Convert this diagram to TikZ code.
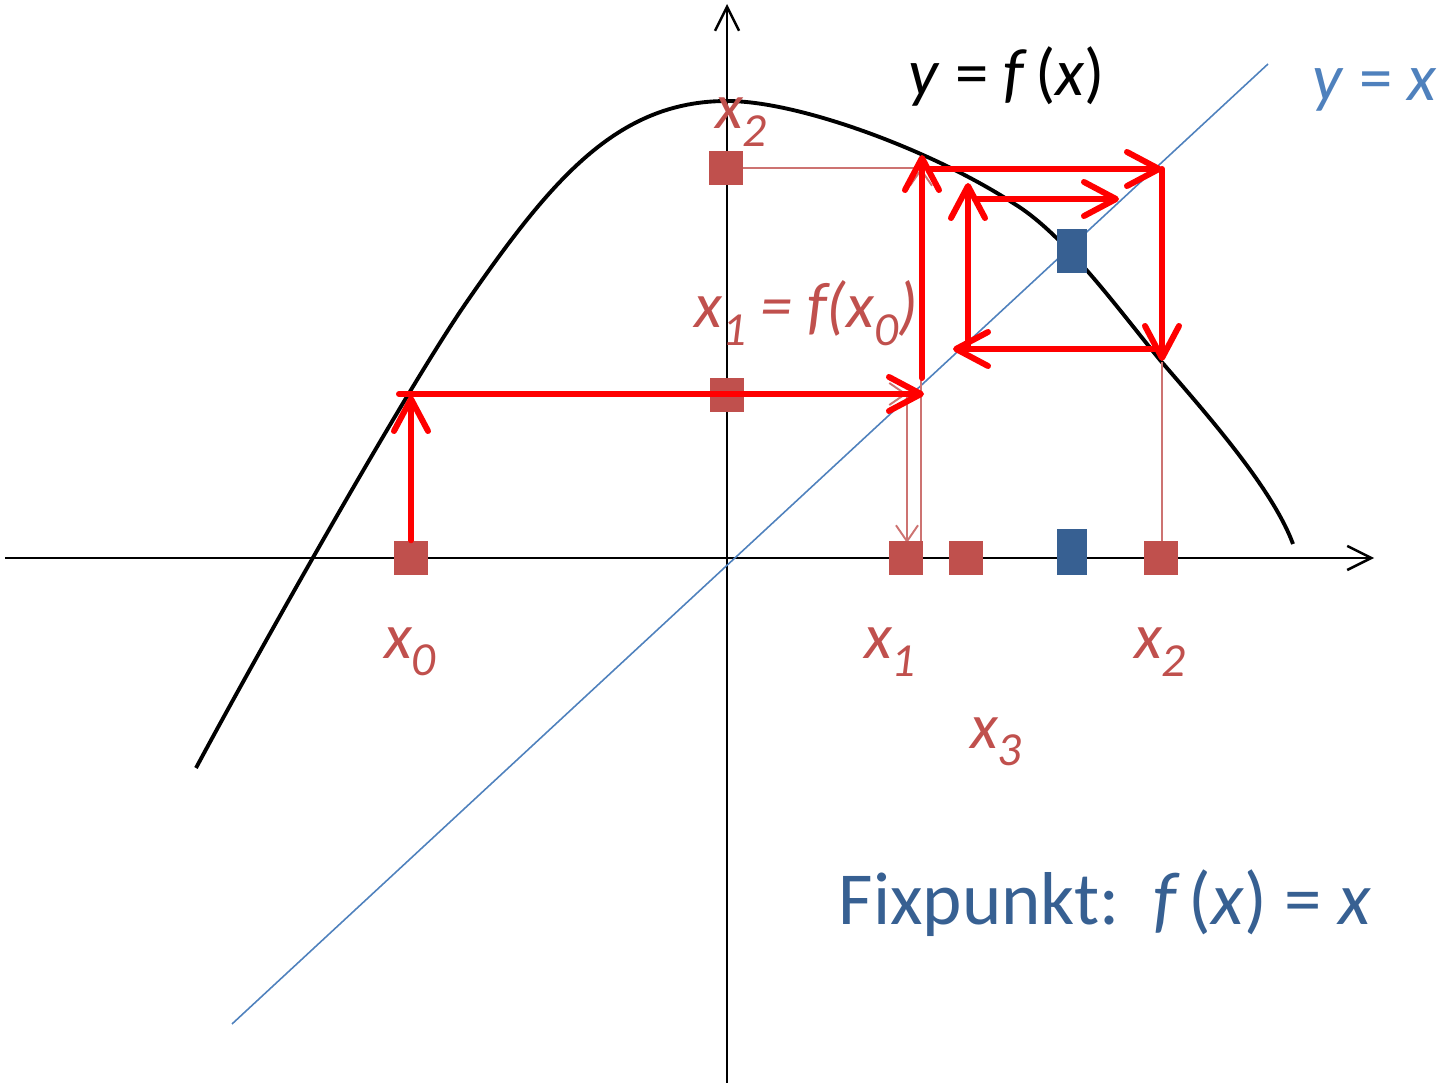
\documentclass[tikz,border=0pt]{standalone}
\usepackage{fontspec}
\setmainfont{Carlito}
\usepackage{xcolor}
\usetikzlibrary{arrows.meta,positioning}
\definecolor{brick}{HTML}{C0504D}
\definecolor{navy}{HTML}{376092}
\definecolor{sky}{HTML}{4F81BD}
\newcommand\lowsub[1]{\raisebox{-0.27em}{\fontsize{13.5}{14}\selectfont #1}}

\begin{document}
\begin{tikzpicture}[x=0.01cm,y=-0.01cm,
  axis/.style={line width=0.7pt,-{Straight Barb[length=2.4mm,width=2.4mm]}},
  graph/.style={line width=1.1pt,black},
  diag/.style={line width=0.45pt,sky},
  itp/.style={rectangle,fill=brick,minimum size=0.34cm,inner sep=0pt},
  fixp/.style={rectangle,fill=navy,minimum width=0.3cm,minimum height=0.46cm,inner sep=0pt},
  guide/.style={brick!80,line width=0.55pt},
  gtip/.style={-{Straight Barb[length=1.6mm,width=2.2mm]}},
  web/.style={red,line width=1.7pt,line cap=round,-{Straight Barb[length=3.2mm,width=3.4mm,round]}},
  lbl/.style={brick,font=\fontsize{18.3}{20}\selectfont\itshape,inner sep=0pt}]
\useasboundingbox (0,0) rectangle (1438,1088);
\coordinate (xl) at (5,558);
\coordinate (xr) at (1374,558);
\coordinate (yb) at (727,1083);
\coordinate (yt) at (727,4);
\coordinate (d1) at (232,1024);
\coordinate (d2) at (1268,64);
\draw[axis] (xl) -- (xr);
\draw[axis] (yb) -- (yt);
\draw[diag] (d1) -- (d2);
\draw[graph] (196,768) .. controls (256,656) and (406,390) .. (466,303)
  .. controls (551,180) and (617,101) .. (727,101)
  .. controls (800,101) and (933,151) .. (1013,203)
  .. controls (1063,233) and (1115,305) .. (1160,360)
  .. controls (1203,410) and (1272,487) .. (1293,544);
\coordinate (g1) at (921,168);
\coordinate (g2) at (907,394);
\coordinate (g3) at (921,543);
\coordinate (g4) at (907,543);
\coordinate (g5) at (1162,362);
\coordinate (g6) at (1162,543);
\draw[guide] (727,168) -- (g1);
\draw[guide,gtip] (727,394) -- (g2);
\draw[guide,gtip] (g3) -- (g1);
\draw[guide,gtip] (g2) -- (g4);
\draw[guide] (g5) -- (g6);
\node[itp] (q0) at (411,558) {};
\node[itp] (q1) at (906,558) {};
\node[itp] (q3) at (966,558) {};
\node[itp] (q2) at (1161,558) {};
\node[itp] (p2) at (726,168) {};
\node[itp] (p1) at (727,395) {};
\node[fixp] (fa) at (1072,552) {};
\node[fixp,minimum height=0.44cm] (fb) at (1072,251) {};
\coordinate (w1) at (411,396);
\coordinate (w2) at (399,394);
\coordinate (w3) at (924,394);
\coordinate (w4) at (922,378);
\coordinate (w5) at (922,155);
\coordinate (w6) at (930,169);
\coordinate (w7) at (1162,169);
\coordinate (w8) at (1162,169);
\coordinate (w9) at (1162,361);
\coordinate (w10) at (1162,349);
\coordinate (w11) at (953,349);
\coordinate (w12) at (968,348);
\coordinate (w13) at (968,183);
\coordinate (w14) at (975,199);
\coordinate (w15) at (1119,199);
\draw[web] (q0.north) -- (w1);
\foreach \a/\b in {w2/w3,w4/w5,w6/w7,w8/w9,w10/w11,w12/w13,w14/w15} \draw[web] (\a) -- (\b);
\node[lbl] (l0) at (410,652) {x\lowsub{0}};
\node[lbl] (l1) at (890,652) {x\lowsub{1}};
\node[lbl] (l2) at (1160,652) {x\lowsub{2}};
\node[lbl] (l3) at (996,742) {x\lowsub{3}};
\node[lbl] (t2) at (741,122) {x\lowsub{2}};
\node[lbl] (rel) at (806,313) {x\lowsub{1} = f(x\lowsub{0})};
\node[font=\fontsize{19}{22}\selectfont] (ylab) at (1007,76) {\textit{y} = \textit{f\,}(\textit{x})};
\node[font=\fontsize{19}{22}\selectfont,sky] (yxlab) at (1375,90) {\textit{y} = \textit{x}};
\node[font=\fontsize{21.3}{24}\selectfont,navy] (fp) at (1105,903) {Fixpunkt:\ \ \textit{f\,}(\textit{x}) = \textit{x}};
\end{tikzpicture}
\end{document}
